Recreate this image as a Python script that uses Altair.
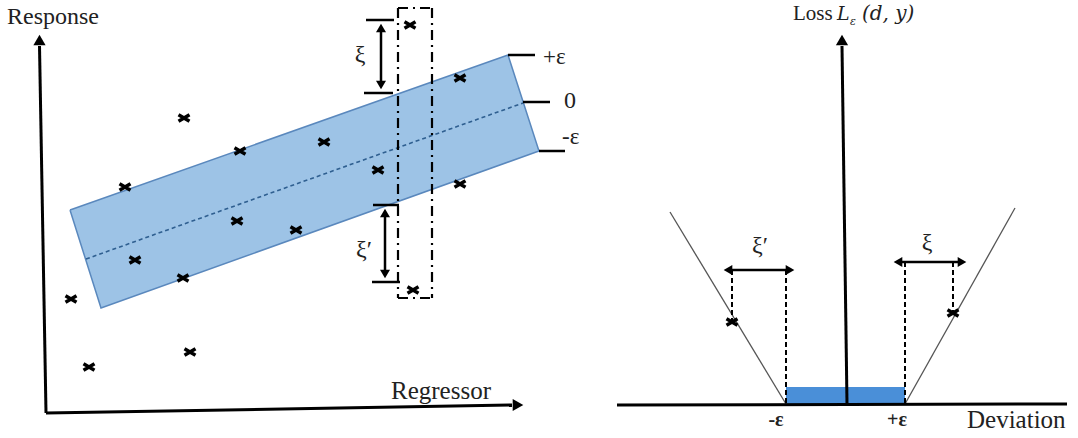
import altair as alt
import pandas as pd

W, H = 1078, 438

# ---------------- data (picture coordinates, y grows downward) ----------------
# left panel: observations
pts_x = [184, 240, 125, 324, 378, 460, 460, 410, 237, 296, 135, 183, 71, 89, 190, 413]
pts_y = [118, 151, 187, 142, 170, 78, 184, 25, 221, 230, 260, 278, 299, 367, 352, 290]
# right panel: two loss points
loss_x = [732, 953]
loss_y = [322, 313]

# epsilon-tube (closed polygon)
band_x = [70, 508, 539, 101, 70]
band_y = [210, 55, 151, 308, 210]
# regression line (dashed, centre of tube)
mid_x1, mid_y1, mid_x2, mid_y2 = [86], [259], [523], [103]

# thick solid axes: x1, y1, x2, y2
axes_x1 = [39.5, 46, 847, 617]
axes_y1 = [46, 413, 404, 405]
axes_x2 = [46, 512, 842, 1067]
axes_y2 = [413, 405, 46, 404]

# medium solid segments (level ticks, xi caps and xi arrows)
seg_x1 = [508, 523, 539, 366, 364, 373, 372, 381, 385, 728, 898]
seg_y1 = [55, 102, 151, 20, 93, 205, 282, 27, 212, 270, 262]
seg_x2 = [535, 550, 565, 394, 393, 399, 400, 381, 385, 790, 962]
seg_y2 = [55, 102, 151, 20, 93, 205, 282, 86, 275, 270, 262]

# dash-dot box around the two outliers
box_x1 = [398, 432, 398, 398]
box_y1 = [8, 8, 8, 298]
box_x2 = [398, 432, 432, 432]
box_y2 = [298, 298, 8, 298]

# dashed verticals in the loss panel
dsh_x1 = [732, 786, 905, 953]
dsh_y1 = [270, 270, 262, 262]
dsh_x2 = [732, 786, 905, 953]
dsh_y2 = [322, 404, 404, 313]

# epsilon-insensitive loss branches
vee_x1 = [670, 905]
vee_y1 = [212, 404]
vee_x2 = [786, 1015]
vee_y2 = [404, 208]

# blue insensitive zone (right panel)
zone_x1, zone_x2, zone_y1, zone_y2 = [786], [905], [387], [404]

# arrow heads
head_x = [39.5, 518, 842, 381, 381, 385, 385, 728, 790, 898, 962]
head_y = [40, 405, 40, 28, 85, 213, 274, 270, 270, 262, 262]
head_shape = ["triangle-up", "triangle-right", "triangle-up", "triangle-up", "triangle-down",
              "triangle-up", "triangle-down", "triangle-left", "triangle-right",
              "triangle-left", "triangle-right"]
head_size = [150, 150, 150, 100, 100, 100, 100, 100, 100, 100, 100]

# texts
lab_text = ["Response", "Regressor", "Deviation", "Loss", "+ε", "0", "-ε"]
lab_x = [7, 391, 967, 793, 543, 564, 562]
lab_y = [24, 399, 428, 20, 64, 108, 144]
lab_size = [24, 25, 25, 21, 23, 24, 23]

xi_text = ["ξ", "ξ′", "ξ′", "ξ"]
xi_x = [360, 364, 760, 927]
xi_y = [55, 250, 246, 243]

eps_text = ["-ε", "+ε"]
eps_x = [776, 897]
eps_y = [420, 420]

SERIF = "'Liberation Serif', 'Times New Roman', serif"
MATH = "'DejaVu Serif', 'Liberation Serif', serif"

# ---------------- chart ----------------
xs = alt.Scale(domain=[0, W], nice=False, zero=False)
ys = alt.Scale(domain=[0, H], nice=False, zero=False, reverse=True)


def X(f="x"):
    return alt.X(f"{f}:Q", scale=xs, axis=None)


def Y(f="y"):
    return alt.Y(f"{f}:Q", scale=ys, axis=None)


def segs(x1, y1, x2, y2):
    return pd.DataFrame({"x": x1, "y": y1, "x2": x2, "y2": y2})


def rule_layer(df, **kw):
    return alt.Chart(df).mark_rule(**kw).encode(
        x=X("x"), y=Y("y"), x2="x2:Q", y2="y2:Q")


band_df = pd.DataFrame({"x": band_x, "y": band_y, "i": list(range(len(band_x)))})
band = alt.Chart(band_df).mark_line(
    fill="#9dc3e6", stroke="#5a88bd", strokeWidth=1.5, fillOpacity=1
).encode(x=X(), y=Y(), order="i:Q")

mid = rule_layer(segs(mid_x1, mid_y1, mid_x2, mid_y2),
                 color="#2f5f90", strokeWidth=1.6, strokeDash=[4, 3])

zone = alt.Chart(segs(zone_x1, zone_y1, zone_x2, zone_y2)).mark_rect(
    color="#4a8fd8").encode(x=X("x"), y=Y("y"), x2="x2:Q", y2="y2:Q")

vee = rule_layer(segs(vee_x1, vee_y1, vee_x2, vee_y2), color="#555555", strokeWidth=1.3)
axes = rule_layer(segs(axes_x1, axes_y1, axes_x2, axes_y2), color="black", strokeWidth=3)
solid = rule_layer(segs(seg_x1, seg_y1, seg_x2, seg_y2), color="black", strokeWidth=2.5)
box = rule_layer(segs(box_x1, box_y1, box_x2, box_y2), color="black", strokeWidth=2.2,
                 strokeDash=[10, 5, 2, 5])
dsh = rule_layer(segs(dsh_x1, dsh_y1, dsh_x2, dsh_y2), color="black", strokeWidth=2,
                 strokeDash=[5, 3])

heads = alt.Chart(pd.DataFrame({"x": head_x, "y": head_y, "s": head_shape, "z": head_size})
                  ).mark_point(filled=True, color="black", opacity=1).encode(
    x=X(), y=Y(), shape=alt.Shape("s:N", scale=None), size=alt.Size("z:Q", scale=None))

cross_path = "M-1,-0.6L1,0.6M-1,0.6L1,-0.6"
pts = alt.Chart(pd.DataFrame({"x": pts_x + loss_x, "y": pts_y + loss_y})).mark_point(
    shape=cross_path, size=120, strokeWidth=3.5, color="black", opacity=1, filled=False
).encode(x=X(), y=Y())

labels = alt.Chart(pd.DataFrame({"x": lab_x, "y": lab_y, "t": lab_text, "z": lab_size})).mark_text(
    font=SERIF, align="left", baseline="alphabetic", color="#222222"
).encode(x=X(), y=Y(), text="t:N", size=alt.Size("z:Q", scale=None))

xis = alt.Chart(pd.DataFrame({"x": xi_x, "y": xi_y, "t": xi_text})).mark_text(
    font=SERIF, fontSize=24, align="center", baseline="middle", color="#222222"
).encode(x=X(), y=Y(), text="t:N")

eps = alt.Chart(pd.DataFrame({"x": eps_x, "y": eps_y, "t": eps_text})).mark_text(
    font=SERIF, fontSize=20, fontWeight="bold", align="center",
    baseline="middle", color="#222222"
).encode(x=X(), y=Y(), text="t:N")

math_L = alt.Chart(pd.DataFrame({"x": [837], "y": [20], "t": ["L"]})).mark_text(
    font=MATH, fontStyle="italic", fontSize=19, align="left",
    baseline="alphabetic", color="#222222").encode(x=X(), y=Y(), text="t:N")
math_sub = alt.Chart(pd.DataFrame({"x": [850], "y": [25], "t": ["ε"]})).mark_text(
    font=MATH, fontStyle="italic", fontSize=11, align="left",
    baseline="alphabetic", color="#222222").encode(x=X(), y=Y(), text="t:N")
math_args = alt.Chart(pd.DataFrame({"x": [862], "y": [20], "t": ["(d, y)"]})).mark_text(
    font=MATH, fontStyle="italic", fontSize=20, align="left",
    baseline="alphabetic", color="#222222").encode(x=X(), y=Y(), text="t:N")

chart = alt.layer(
    band, mid, zone, vee, axes, solid, box, dsh, heads, pts,
    labels, xis, eps, math_L, math_sub, math_args
).properties(
    width=W, height=H, padding=0,
    autosize=alt.AutoSizeParams(type="none"),
    background="white",
).configure_view(stroke=None)

chart.save("out.html", embed_options={"renderer": "svg", "actions": False})
